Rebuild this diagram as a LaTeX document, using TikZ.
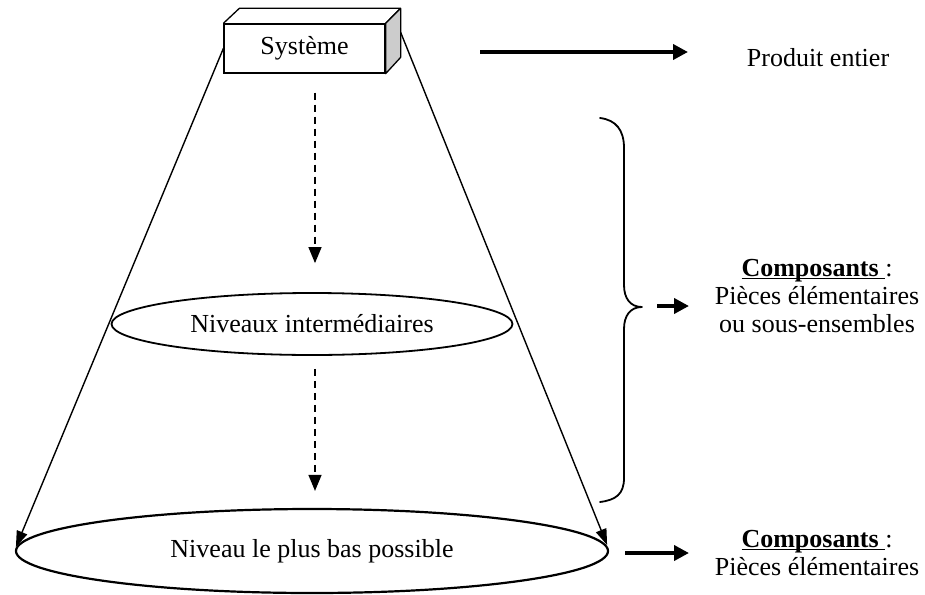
\documentclass[tikz,border=0pt]{standalone}
\usepackage{fontspec}
\setmainfont{Liberation Serif}
\usetikzlibrary{arrows.meta,shapes.geometric,calc}

% underline set just below the baseline, covering the word and its trailing space
\newcommand\ulword[1]{\setbox0\hbox{#1}\rlap{\rule[-3pt]{\wd0}{1.4pt}}\box0}

\tikzset{
  txt/.style={font=\fontsize{26}{28}\selectfont, inner sep=0pt, align=center},
  level/.style={draw, line width=1.8pt, ellipse, inner sep=0pt, font=\fontsize{26}{28}\selectfont},
  cone/.style={line width=1.4pt, -{Triangle[length=16pt,width=11pt]}},
  darr/.style={line width=1.3pt, dash pattern=on 7pt off 5pt, -{Triangle[length=16pt,width=13pt]}},
  bigarr/.style={line width=4pt, -{Triangle[length=15pt,width=15pt]}},
  bracestyle/.style={line width=1.8pt, line cap=round, line join=round},
}

\begin{document}
\begin{tikzpicture}[x=1pt,y=-1pt]
\useasboundingbox (0,0) rectangle (925,594);

% the system box, drawn as a block in oblique view
\node[draw, line width=1.3pt, minimum width=161pt, minimum height=49pt, inner sep=0pt,
      font=\fontsize{26}{28}\selectfont] (sys) at (304.5,48.5) {Système};
\draw[line width=1.3pt, line join=round] (sys.north west) -- ++(16,-15) -- ++(161,0) -- (sys.north east);
\filldraw[fill=black!20, line width=1.3pt, line join=round]
  (sys.north east) -- ++(15,-15) -- ++(0,49) -- (sys.south east) -- cycle;
\coordinate (backright) at ($(sys.north east)+(15,-15)$);

% levels
\node[level, minimum width=401pt, minimum height=62pt] (mid) at (312,324) {Niveaux intermédiaires};
\node[level, line width=2.2pt, minimum width=592pt, minimum height=84pt] (bot) at (312,551) {\raisebox{6pt}{Niveau le plus bas possible}};

% cone sides
\draw[cone] (sys.west) -- ([xshift=1pt,yshift=4pt]bot.west);
\draw[cone] ($(backright)+(0,24)$) -- ([xshift=-2pt,yshift=6pt]bot.east);

% decomposition arrows
\draw[darr] ([xshift=10.5pt,yshift=-19pt]sys.south) -- ([xshift=3pt,yshift=29pt]mid.north);
\draw[darr] ([xshift=3pt,yshift=-13pt]mid.south) -- ([xshift=3pt,yshift=17pt]bot.north);

% whole product
\node[txt] (prod) at (818,58) {Produit entier};
\coordinate (p0) at (480,52);
\coordinate (p1) at (688,52);
\draw[bigarr] (p0) -- (p1);

% brace over the intermediate levels
\coordinate (btop) at (600,118);
\coordinate (btip) at (642,307);
\coordinate (bbot) at (600,502);
\draw[bracestyle] (btop) .. controls (616,120) and (624,130) .. (624,148)
  -- (624,285) .. controls (624,298) and (630,307) .. (btip)
  .. controls (630,307) and (624,316) .. (624,329)
  -- (624,478) .. controls (624,494) and (616,500) .. (bbot);

% components
\node[txt] (comp) at (817,296) {\ulword{\textbf{Composants}\ }:\\Pièces élémentaires\\ou sous-ensembles};
\coordinate (c0) at (657,306);
\coordinate (c1) at (689,306);
\draw[bigarr] (c0) -- (c1);

% elementary parts
\node[txt] (elem) at (817,553) {\ulword{\textbf{Composants}\ }:\\Pièces élémentaires};
\coordinate (e0) at (625,553);
\coordinate (e1) at (689,553);
\draw[bigarr] (e0) -- (e1);
\end{tikzpicture}
\end{document}
